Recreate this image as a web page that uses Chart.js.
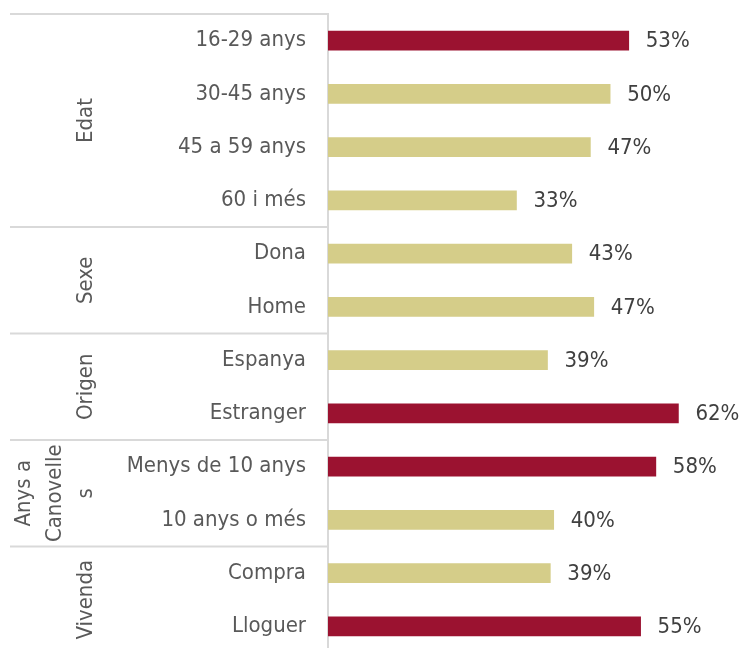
<!DOCTYPE html>
<html>
<head>
<meta charset="utf-8">
<script src="https://cdn.jsdelivr.net/npm/chart.js@4"></script>
<style>
  html, body { margin: 0; padding: 0; background: #ffffff; overflow: hidden; }
  #wrap { width: 741px; height: 654px; }
</style>
</head>
<body>
<div id="wrap"><canvas id="c" width="741" height="654"></canvas></div>
<script>
// ---- data ----
const categories = ['16-29 anys', '30-45 anys', '45 a 59 anys', '60 i més',
                    'Dona', 'Home',
                    'Espanya', 'Estranger',
                    'Menys de 10 anys', '10 anys o més',
                    'Compra', 'Lloguer'];
const values = [53.3, 50.0, 46.5, 33.4, 43.2, 47.1, 38.9, 62.1, 58.1, 40.0, 39.4, 55.4];
const highlighted = ['16-29 anys', 'Estranger', 'Menys de 10 anys', 'Lloguer'];
const groupNames = ['Edat', 'Sexe', 'Origen', ['Anys a', 'Canovelle', 's'], 'Vivenda'];
const groupSizes = [4, 2, 2, 2, 2];

// ---- styles ----
const FONT = "'DejaVu Sans Condensed', 'DejaVu Sans', sans-serif";
const RED = '#9b1230';
const TAN = '#d5cd89';
const GRID = '#d9d9d9';

const groupPlugin = {
  id: 'groups',
  afterDraw(chart) {
    const ctx = chart.ctx;
    const y = chart.scales.y;
    const axisX = chart.chartArea.left;
    ctx.save();
    ctx.strokeStyle = GRID;
    ctx.lineWidth = 2;
    let start = 0;
    const bounds = [y.getPixelForValue(-0.5)];
    groupSizes.forEach(n => { start += n; bounds.push(y.getPixelForValue(start - 0.5)); });
    bounds.slice(0, -1).forEach(b => {
      ctx.beginPath();
      ctx.moveTo(10, b);
      ctx.lineTo(axisX, b);
      ctx.stroke();
    });
    ctx.fillStyle = '#595959';
    ctx.font = '22px ' + FONT;
    ctx.textAlign = 'center';
    ctx.textBaseline = 'middle';
    groupNames.forEach((name, i) => {
      const cy = (bounds[i] + bounds[i + 1]) / 2;
      const lines = Array.isArray(name) ? name : [name];
      const lh = 31;
      const lastX = 86;
      lines.forEach((ln, j) => {
        const cx = lastX - (lines.length - 1 - j) * lh;
        ctx.save();
        ctx.translate(cx, cy);
        ctx.rotate(-Math.PI / 2);
        ctx.fillText(ln, 0, 0);
        ctx.restore();
      });
    });
    ctx.restore();
  }
};

const labelPlugin = {
  id: 'barLabels',
  afterDatasetsDraw(chart) {
    const ctx = chart.ctx;
    const meta = chart.getDatasetMeta(0);
    ctx.save();
    ctx.fillStyle = '#404040';
    ctx.font = '22px ' + FONT;
    ctx.textAlign = 'left';
    ctx.textBaseline = 'middle';
    meta.data.forEach((bar, i) => {
      ctx.fillText(Math.round(values[i]) + '%', bar.x + 17, bar.y + 1);
    });
    ctx.restore();
  }
};

new Chart(document.getElementById('c'), {
  type: 'bar',
  data: {
    labels: categories,
    datasets: [{
      data: values,
      backgroundColor: categories.map(c => highlighted.includes(c) ? RED : TAN),
      barThickness: 19
    }]
  },
  options: {
    indexAxis: 'y',
    responsive: false,
    animation: false,
    layout: { padding: { top: 14, bottom: 1, left: 0, right: 18 } },
    plugins: { legend: { display: false }, tooltip: { enabled: false } },
    scales: {
      x: { display: false, min: 0, max: 70 },
      y: {
        afterFit(scale) { scale.width = 328; scale.paddingTop = 0; scale.paddingBottom = 0; },
        grid: { display: false, drawTicks: false },
        border: { display: true, color: GRID, width: 2 },
        ticks: { color: '#595959', font: { family: FONT, size: 22 }, padding: 22, crossAlign: 'near' }
      }
    }
  },
  plugins: [groupPlugin, labelPlugin]
});
</script>
</body>
</html>
